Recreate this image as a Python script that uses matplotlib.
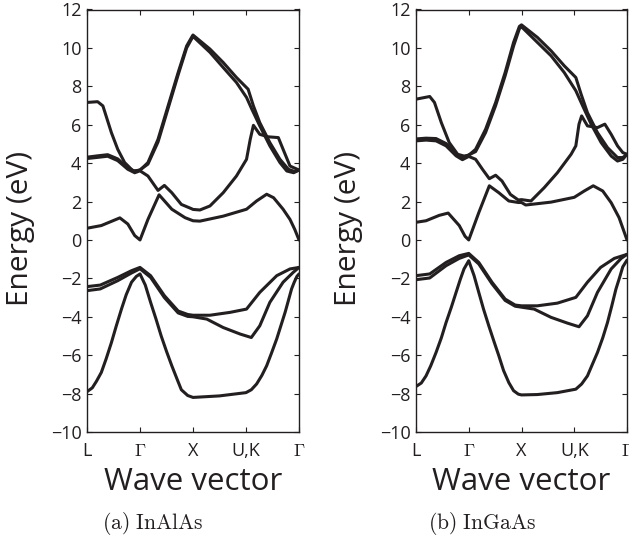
import matplotlib
matplotlib.use("Agg")
import matplotlib.pyplot as plt

plt.rcParams['font.family'] = ['Open Sans', 'DejaVu Sans']
plt.rcParams['mathtext.fontset'] = 'cm'

# ---------------- data ----------------
KPOINT_POS = [0, 1, 2, 3, 4]
KPOINT_LABELS = ['L', r'$\Gamma$', 'X', 'U,K', r'$\Gamma$']
E_TICKS = [-10, -8, -6, -4, -2, 0, 2, 4, 6, 8, 10, 12]
PANEL_TITLES = [r'$\mathrm{(a)\ InAlAs}$', r'$\mathrm{(b)\ InGaAs}$']

# InAlAs bands (k along L-G-X-UK-G, energy in eV)
inalas_b1_k = [0, 0.1, 0.18, 0.27, 0.36, 0.46, 0.55, 0.65, 0.74, 0.84, 0.93, 1.0, 1.1, 1.2, 1.3, 1.4, 1.5, 1.6, 1.7, 1.78, 1.9, 2.0, 2.5, 3.0, 3.1, 3.2, 3.3, 3.39, 3.48, 3.58, 3.66, 3.74, 3.8, 3.86, 3.91, 3.96, 4.0]
inalas_b1_e = [-7.9, -7.7, -7.35, -6.9, -6.2, -5.35, -4.5, -3.6, -2.85, -2.2, -1.9, -1.77, -2.35, -3.25, -4.1, -5.0, -5.8, -6.55, -7.25, -7.8, -8.1, -8.2, -8.12, -7.95, -7.8, -7.5, -7.05, -6.55, -5.9, -5.15, -4.45, -3.75, -3.15, -2.55, -2.2, -1.9, -1.77]
inalas_b2_k = [0, 0.25, 0.58, 0.84, 1.0, 1.2, 1.46, 1.72, 1.9, 2.0, 2.32, 2.7, 3.01, 3.26, 3.58, 3.83, 4.0]
inalas_b2_e = [-2.43, -2.35, -1.95, -1.6, -1.43, -1.86, -2.9, -3.7, -3.88, -3.92, -3.92, -3.77, -3.6, -2.73, -1.86, -1.51, -1.43]
inalas_b3_k = [0, 0.25, 0.58, 0.84, 1.0, 1.2, 1.46, 1.72, 1.9, 2.0, 2.26, 2.57, 2.89, 3.1, 3.26, 3.45, 3.7, 3.89, 4.0]
inalas_b3_e = [-2.64, -2.55, -2.12, -1.72, -1.5, -1.95, -3.0, -3.8, -3.98, -4.0, -4.12, -4.56, -4.9, -5.08, -4.47, -3.25, -2.2, -1.69, -1.43]
inalas_b4_k = [0, 0.27, 0.62, 0.77, 0.9, 1.0, 1.15, 1.36, 1.6, 1.85, 2.0, 2.13, 2.57, 3.01, 3.2, 3.39, 3.52, 3.7, 3.83, 3.92, 4.0]
inalas_b4_e = [0.61, 0.75, 1.15, 0.83, 0.23, 0.0, 1.07, 2.35, 1.6, 1.16, 1.0, 0.98, 1.24, 1.6, 2.03, 2.38, 2.2, 1.6, 1.07, 0.55, 0.0]
inalas_b5_k = [0, 0.2, 0.39, 0.58, 0.77, 0.9, 1.0, 1.15, 1.34, 1.46, 1.6, 1.78, 1.97, 2.0, 2.13, 2.32, 2.57, 2.82, 3.01, 3.08, 3.14, 3.26, 3.42, 3.61, 3.7, 3.83, 4.0]
inalas_b5_e = [4.24, 4.3, 4.36, 4.13, 3.68, 3.5, 3.6, 3.33, 2.58, 2.84, 2.46, 1.85, 1.63, 1.59, 1.56, 1.77, 2.46, 3.33, 4.2, 5.24, 5.97, 5.5, 5.37, 5.33, 4.72, 3.85, 3.64]
inalas_b6_k = [0, 0.2, 0.3, 0.46, 0.58, 0.71, 0.87, 1.0, 1.15, 1.34, 1.53, 1.72, 1.88, 1.99, 2.0, 2.32, 2.57, 2.82, 3.04, 3.14, 3.26, 3.45, 3.64, 3.8, 3.92, 4.0]
inalas_b6_e = [7.16, 7.2, 6.98, 5.59, 4.72, 4.03, 3.59, 3.63, 4.03, 5.24, 6.98, 8.72, 10.1, 10.63, 10.67, 9.94, 9.24, 8.46, 7.85, 6.98, 6.11, 5.07, 4.2, 3.68, 3.56, 3.64]
inalas_b7_k = [0, 0.2, 0.39, 0.58, 0.77, 0.9, 1.0, 1.15, 1.34, 1.53, 1.72, 1.88, 1.99, 2.0, 2.32, 2.57, 2.82, 3.01, 3.11, 3.26, 3.45, 3.64, 3.77, 3.9, 4.0]
inalas_b7_e = [4.31, 4.38, 4.44, 4.22, 3.75, 3.58, 3.65, 3.95, 5.1, 6.85, 8.6, 10.0, 10.55, 10.6, 9.77, 8.98, 8.2, 7.42, 6.81, 5.94, 4.9, 4.03, 3.59, 3.5, 3.64]

# InGaAs bands
ingaas_b1_k = [0, 0.1, 0.19, 0.28, 0.38, 0.48, 0.57, 0.67, 0.76, 0.84, 0.91, 1.0, 1.1, 1.19, 1.28, 1.38, 1.48, 1.57, 1.66, 1.76, 1.85, 1.94, 2.0, 2.3, 2.68, 3.03, 3.14, 3.25, 3.34, 3.44, 3.54, 3.63, 3.71, 3.79, 3.86, 3.92, 4.0]
ingaas_b1_e = [-7.63, -7.45, -7.08, -6.55, -5.86, -5.1, -4.3, -3.5, -2.73, -2.05, -1.51, -1.08, -1.85, -2.73, -3.6, -4.47, -5.3, -6.03, -6.8, -7.43, -7.85, -8.03, -8.07, -8.05, -7.95, -7.77, -7.5, -7.08, -6.5, -5.86, -5.1, -4.3, -3.45, -2.56, -1.95, -1.4, -1.05]
ingaas_b2_k = [0, 0.26, 0.57, 0.82, 1.0, 1.19, 1.44, 1.69, 1.88, 2.0, 2.3, 2.68, 3.03, 3.25, 3.5, 3.76, 4.0]
ingaas_b2_e = [-1.86, -1.77, -1.17, -0.82, -0.7, -1.17, -2.2, -3.08, -3.39, -3.43, -3.43, -3.29, -2.99, -2.2, -1.43, -0.96, -0.75]
ingaas_b3_k = [0, 0.26, 0.57, 0.82, 1.0, 1.19, 1.44, 1.69, 1.88, 2.0, 2.24, 2.56, 2.87, 3.09, 3.25, 3.44, 3.7, 3.89, 4.0]
ingaas_b3_e = [-2.07, -1.98, -1.34, -0.96, -0.78, -1.25, -2.28, -3.15, -3.45, -3.5, -3.6, -4.03, -4.33, -4.52, -3.95, -2.73, -1.51, -0.96, -0.75]
ingaas_b4_k = [0, 0.19, 0.44, 0.61, 0.82, 0.93, 1.0, 1.19, 1.39, 1.57, 1.76, 1.94, 2.0, 2.08, 2.56, 3.0, 3.19, 3.36, 3.54, 3.7, 3.85, 4.0]
ingaas_b4_e = [0.92, 1.0, 1.28, 1.4, 0.75, 0.19, 0.0, 1.42, 2.82, 2.46, 2.03, 1.95, 1.95, 1.82, 1.97, 2.22, 2.55, 2.82, 2.55, 1.94, 1.16, 0.0]
ingaas_b5_k = [0, 0.19, 0.38, 0.57, 0.76, 0.88, 1.0, 1.13, 1.26, 1.39, 1.51, 1.63, 1.79, 1.94, 2.0, 2.18, 2.43, 2.68, 2.94, 3.03, 3.09, 3.14, 3.25, 3.44, 3.58, 3.7, 3.82, 3.92, 4.0]
ingaas_b5_e = [5.16, 5.2, 5.16, 4.9, 4.38, 4.18, 4.35, 4.2, 3.68, 3.19, 3.37, 3.07, 2.37, 2.08, 2.1, 2.03, 2.72, 3.5, 4.46, 4.9, 6.03, 6.46, 5.94, 5.85, 6.03, 5.5, 4.9, 4.55, 4.46]
ingaas_b6_k = [0, 0.26, 0.35, 0.48, 0.63, 0.79, 0.91, 1.0, 1.13, 1.32, 1.51, 1.69, 1.85, 1.96, 2.0, 2.3, 2.56, 2.81, 3.03, 3.13, 3.25, 3.44, 3.63, 3.82, 3.92, 4.0]
ingaas_b6_e = [7.33, 7.47, 7.16, 6.11, 5.07, 4.46, 4.37, 4.41, 4.72, 5.77, 7.16, 8.72, 10.29, 11.12, 11.2, 10.55, 9.85, 9.07, 8.46, 7.59, 6.63, 5.59, 4.81, 4.29, 4.29, 4.46]
ingaas_b7_k = [0, 0.19, 0.38, 0.57, 0.76, 0.88, 1.0, 1.13, 1.32, 1.51, 1.69, 1.85, 1.96, 2.0, 2.3, 2.56, 2.81, 3.03, 3.16, 3.32, 3.51, 3.7, 3.82, 3.92, 4.0]
ingaas_b7_e = [5.26, 5.3, 5.28, 5.02, 4.5, 4.27, 4.43, 4.6, 5.6, 7.0, 8.55, 10.1, 11.0, 11.1, 10.29, 9.59, 8.72, 7.77, 6.98, 6.03, 5.07, 4.37, 4.11, 4.2, 4.46]

inalas_bands = [(inalas_b1_k, inalas_b1_e), (inalas_b2_k, inalas_b2_e), (inalas_b3_k, inalas_b3_e),
                (inalas_b4_k, inalas_b4_e), (inalas_b5_k, inalas_b5_e), (inalas_b6_k, inalas_b6_e),
                (inalas_b7_k, inalas_b7_e)]
ingaas_bands = [(ingaas_b1_k, ingaas_b1_e), (ingaas_b2_k, ingaas_b2_e), (ingaas_b3_k, ingaas_b3_e),
                (ingaas_b4_k, ingaas_b4_e), (ingaas_b5_k, ingaas_b5_e), (ingaas_b6_k, ingaas_b6_e),
                (ingaas_b7_k, ingaas_b7_e)]

# ---------------- figure ----------------
W, H = 629, 542
fig = plt.figure(figsize=(W / 100, H / 100), dpi=100)
ink = '#231f20'

def px_rect(x0, x1, y0, y1):
    return [x0 / W, 1 - y1 / H, (x1 - x0) / W, (y1 - y0) / H]

axes_px = [(87, 299), (416, 627)]
ylabel_x = [21, 349]
caption_x = [153, 482]

for i, bands in enumerate([inalas_bands, ingaas_bands]):
    x0, x1 = axes_px[i]
    ax = fig.add_axes(px_rect(x0, x1, 9.5, 432))
    for k, e in bands:
        ax.plot(k, e, color=ink, lw=2.2, solid_joinstyle='round', solid_capstyle='round')
    ax.set_xlim(0, 4)
    ax.set_ylim(-10, 12)
    ax.set_xticks(KPOINT_POS)
    ax.set_xticklabels(KPOINT_LABELS)
    ax.set_yticks(E_TICKS)
    ax.tick_params(direction='in', length=3.5, width=0.8, color=ink, labelcolor=ink,
                   top=True, right=True, labelsize=13)
    ax.tick_params(axis='x', pad=7.5)
    ax.tick_params(axis='y', pad=4)
    for s in ax.spines.values():
        s.set_linewidth(1.0)
        s.set_color(ink)
    fig.text(ylabel_x[i] / W, 1 - 228 / H, 'Energy (eV)', rotation=90, ha='center', va='center',
             fontsize=21.5, color=ink)
    fig.text(((x0 + x1) / 2) / W, 1 - 490 / H, 'Wave vector', ha='center', va='baseline',
             fontsize=22.5, color=ink)
    fig.text(caption_x[i] / W, 1 - 529 / H, PANEL_TITLES[i], ha='center', va='baseline',
             fontsize=15.5, color=ink)

fig.savefig('out.png', dpi=100)
